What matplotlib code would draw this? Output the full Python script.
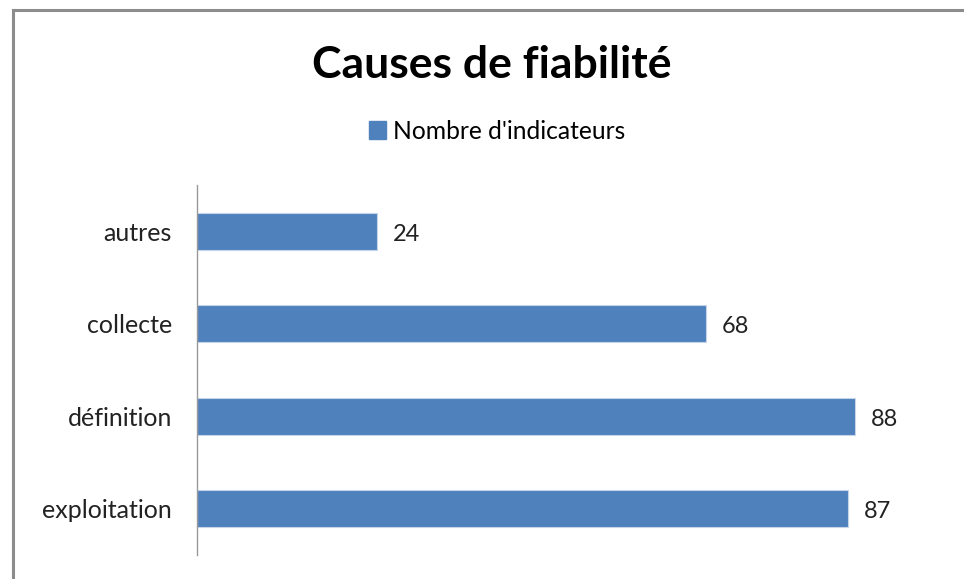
import numpy as np
import matplotlib.pyplot as plt
from matplotlib.lines import Line2D
from matplotlib.patches import Patch

# %% Data ---------------------------------------------------------------------
categories = ['exploitation', 'définition', 'collecte', 'autres']
values = [87, 88, 68, 24]
series_name = "Nombre d'indicateurs"
title = 'Causes de fiabilité'

plt.rcParams['font.family'] = ['Lato', 'DejaVu Sans']

W, H = 964, 579
fig = plt.figure(figsize=(W/100, H/100), dpi=100)

# chart frame: only top and left edges are visible in the crop
fx, fy = 12.5/W, 1 - 9.5/H
fig.add_artist(Line2D([fx, fx], [0, fy], transform=fig.transFigure,
                      color='#8c8c8c', linewidth=2.2))
fig.add_artist(Line2D([fx, 1], [fy, fy], transform=fig.transFigure,
                      color='#8c8c8c', linewidth=2.2))

ax = fig.add_axes([197/W, 24/H, 748/W, 370/H])
y = np.arange(len(categories))
ax.barh(y, values, height=0.4, color='#4f81bd', edgecolor='#c6d4e8', linewidth=0.8)

for yi, v in zip(y, values):
    ax.annotate(f'{v}', (v, yi), xytext=(11.5, -2), textcoords='offset points',
                va='center', ha='left', fontsize=17, color='#222222')

ax.set_xlim(0, 100)
ax.set_ylim(-0.5, 3.5)
ax.set_yticks(y, categories)
ax.tick_params(axis='y', length=0, pad=18, labelsize=18, labelcolor='#222222')
ax.set_xticks([])
for s in ['top', 'right', 'bottom']:
    ax.spines[s].set_visible(False)
ax.spines['left'].set_color('#999999')
ax.spines['left'].set_linewidth(1.0)

fig.text(0.5 + 10/W, 1 - 65/H, title, ha='center', va='center',
         fontsize=32, fontweight='bold', color='black')

fig.legend(handles=[Patch(color='#4f81bd', label=series_name)],
           loc='center', bbox_to_anchor=(497/W, 1 - 131/H), frameon=False,
           fontsize=17.7, handlelength=0.7, handleheight=0.7, handletextpad=0.3)

fig.savefig('out.png', dpi=100, facecolor='white')
